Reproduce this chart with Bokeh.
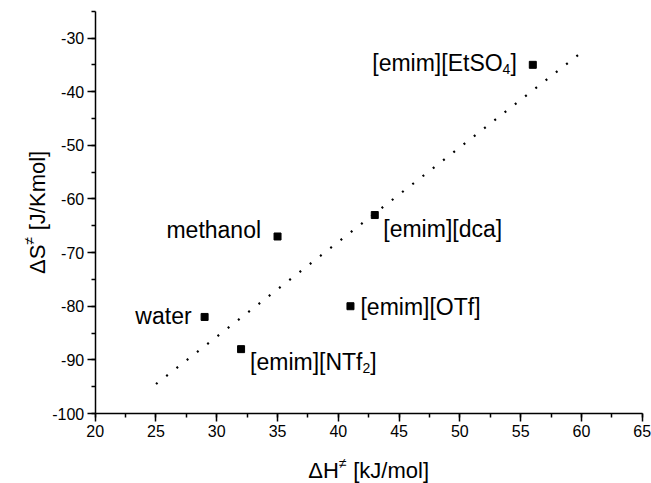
import math
from bokeh.plotting import figure
from bokeh.models import (Range1d, SingleIntervalTicker, ColumnDataSource,
                          LinearAxis, PrintfTickFormatter)
from bokeh.core.properties import value
from bokeh.embed import file_html
from bokeh.resources import INLINE

# ---------------- data ----------------
compounds = ["[emim][EtSO4]", "[emim][dca]", "methanol", "[emim][OTf]", "water", "[emim][NTf2]"]
dH = [56, 43, 35, 41, 29, 32]          # ΔH≠ [kJ/mol]
dS = [-35, -63, -67, -80, -82, -88]    # ΔS≠ [J/Kmol]
fit_dH = [25, 60]
fit_dS = [-94.5, -32.7]

x_axis_span = (20, 65)
y_axis_span = (-100, -25)

# label texts split into normal text / subscript / tail
label_main = ["[emim][EtSO", "[emim][dca]", "methanol", "[emim][OTf]", "water", "[emim][NTf"]
label_sub = ["4", "", "", "", "", "2"]
label_tail = ["]", "", "", "", "", "]"]

# axis titles: main symbol, superscript, unit
x_title = ["ΔH", "≠", "[kJ/mol]"]
y_title = ["ΔS", "≠", "[J/Kmol]"]

# ---------------- layout / style ----------------
W, H = 651, 483
AX_LEFT, AX_RIGHT, AX_TOP, AX_BOTTOM = 94.7, 641.7, 10.7, 413.0   # pixel positions of the axes box

FONT = "Liberation Sans"
LBL = 23      # label font px
SUB = 14      # subscript font px
TITLE = 22
SUPER = 14

# Arial/Liberation advance widths (per 1000 em)
AW = {"[": 278, "]": 278, "e": 556, "m": 833, "i": 222, "E": 667, "t": 278, "S": 667,
      "O": 778, "N": 722, "T": 611, "f": 278, "d": 556, "c": 500, "a": 556, "h": 556,
      "n": 556, "o": 556, "l": 222, "w": 722, "r": 333, "4": 556, "2": 556, " ": 278,
      "k": 500, "J": 500, "/": 278, "K": 667, "H": 722, "Δ": 668, "≠": 584}


def width(s, size):
    return sum(AW.get(ch, 556) for ch in s) * size / 1000.0


# per label: side of marker, horizontal gap (px), baseline offset (px, + = down)
placement = {
    "[emim][EtSO4]": ("left", 16, -2),
    "[emim][dca]": ("right", 8.5, 14),
    "methanol": ("left", 16.5, -6),
    "[emim][OTf]": ("right", 10, 1),
    "water": ("left", 13, -1),
    "[emim][NTf2]": ("right", 9, 13),
}

# frame covers the whole canvas; axes are pinned at fixed locations
sx = (AX_RIGHT - AX_LEFT) / (x_axis_span[1] - x_axis_span[0])
sy = (AX_BOTTOM - AX_TOP) / (y_axis_span[1] - y_axis_span[0])
x0 = x_axis_span[0] - AX_LEFT / sx
x1 = x0 + W / sx
y1 = y_axis_span[1] + AX_TOP / sy
y0 = y1 - H / sy

p = figure(width=W, height=H, output_backend="svg", toolbar_location=None,
           x_range=Range1d(x0, x1), y_range=Range1d(y0, y1),
           x_axis_location=None, y_axis_location=None,
           min_border=0, min_border_left=0, min_border_right=0,
           min_border_top=0, min_border_bottom=0)
p.outline_line_color = None
p.background_fill_color = "white"
p.border_fill_color = "white"
p.grid.visible = False

xaxis = LinearAxis(fixed_location=y_axis_span[0], bounds=x_axis_span,
                   ticker=SingleIntervalTicker(interval=5, num_minor_ticks=2))
yaxis = LinearAxis(fixed_location=x_axis_span[0], bounds=y_axis_span,
                   ticker=SingleIntervalTicker(interval=10, num_minor_ticks=2))
for ax in (xaxis, yaxis):
    ax.formatter = PrintfTickFormatter(format="%d")
    ax.axis_line_color = "black"
    ax.axis_line_width = 1.5
    ax.major_tick_line_color = "black"
    ax.major_tick_line_width = 1.5
    ax.minor_tick_line_color = "black"
    ax.minor_tick_line_width = 1.5
    ax.major_tick_in = 0
    ax.major_tick_out = 8
    ax.minor_tick_in = 0
    ax.minor_tick_out = 4
    ax.major_label_text_font = FONT
    ax.major_label_text_font_size = "16px"
    ax.major_label_text_color = "black"
    ax.major_label_standoff = 3
p.add_layout(xaxis, "below")
p.add_layout(yaxis, "left")

# dotted fit line
p.line(fit_dH, fit_dS, line_color="black", line_width=2.2, line_dash="2 11")

# markers
p.scatter(dH, dS, marker="square", size=7, color="black")

# point labels
rows = {"x": [], "y": [], "text": [], "xo": [], "yo": [], "size": []}
for name, x, y, main, sub, tail in zip(compounds, dH, dS, label_main, label_sub, label_tail):
    side, gap, base = placement[name]
    pieces = [(main, LBL, 0), (sub, SUB, 6), (tail, LBL, 0)]
    pieces = [pc for pc in pieces if pc[0]]
    total = sum(width(t, s) for t, s, _ in pieces)
    start = gap if side == "right" else -gap - total
    for t, s, drop in pieces:
        rows["x"].append(x)
        rows["y"].append(y)
        rows["text"].append(t)
        rows["xo"].append(start)
        rows["yo"].append(base + drop)
        rows["size"].append(f"{s}px")
        start += width(t, s)

p.text(x="x", y="y", text="text", x_offset="xo", y_offset="yo", source=ColumnDataSource(rows),
       text_font=value(FONT), text_font_size="size", text_color="black",
       text_align="left", text_baseline="alphabetic")


def title_pieces(parts):
    main, sup, unit = parts
    pcs = [(main, TITLE, 0, 0.0), (sup, SUPER, 8, 0.0), (unit, TITLE, 0, width(" ", TITLE))]
    tot = sum(width(t, s) + gap for t, s, _, gap in pcs)
    out, pos = [], -tot / 2
    for t, s, rise, gap in pcs:
        pos += gap
        out.append((t, s, rise, pos))
        pos += width(t, s)
    return out


# x title: centred under the axis, baseline 57px below it
xc = (x_axis_span[0] + x_axis_span[1]) / 2
xt = {"x": [], "y": [], "text": [], "xo": [], "yo": [], "size": []}
for t, s, rise, pos in title_pieces(x_title):
    xt["x"].append(xc)
    xt["y"].append(y_axis_span[0])
    xt["text"].append(t)
    xt["xo"].append(pos)
    xt["yo"].append(57 - rise)
    xt["size"].append(f"{s}px")
p.text(x="x", y="y", text="text", x_offset="xo", y_offset="yo", source=ColumnDataSource(xt),
       text_font=value(FONT), text_font_size="size", text_color="black",
       text_align="left", text_baseline="alphabetic")

# y title: rotated, centred along the axis, baseline 58px left of it
yc = (y_axis_span[0] + y_axis_span[1]) / 2
yt = {"x": [], "y": [], "text": [], "xo": [], "yo": [], "size": []}
for t, s, rise, pos in title_pieces(y_title):
    yt["x"].append(x_axis_span[0])
    yt["y"].append(yc)
    yt["text"].append(t)
    yt["xo"].append(-58 - rise)
    yt["yo"].append(-pos)
    yt["size"].append(f"{s}px")
p.text(x="x", y="y", text="text", x_offset="xo", y_offset="yo", source=ColumnDataSource(yt),
       angle=math.pi / 2, text_font=value(FONT), text_font_size="size", text_color="black",
       text_align="left", text_baseline="alphabetic")

open("out.html", "w").write(file_html(p, INLINE))
